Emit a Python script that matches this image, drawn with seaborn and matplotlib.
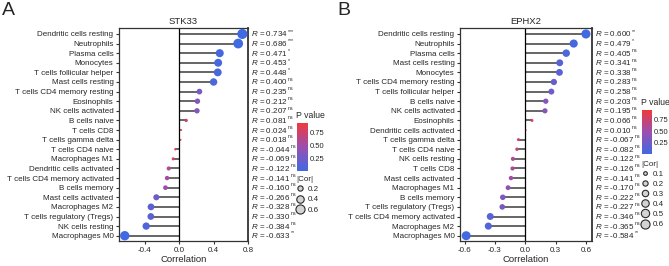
import numpy as np
import pandas as pd
import matplotlib
matplotlib.use('Agg')
import matplotlib.pyplot as plt
import matplotlib.transforms as mtransforms
from matplotlib.colors import LinearSegmentedColormap, Normalize
from matplotlib.lines import Line2D
import seaborn as sns

# panel A - STK33
cells_a = ['Dendritic cells resting', 'Neutrophils', 'Plasma cells', 'Monocytes',
           'T cells follicular helper', 'Mast cells resting', 'T cells CD4 memory resting',
           'Eosinophils', 'NK cells activated', 'B cells naive', 'T cells CD8',
           'T cells gamma delta', 'T cells CD4 naive', 'Macrophages M1',
           'Dendritic cells activated', 'T cells CD4 memory activated', 'B cells memory',
           'Mast cells activated', 'Macrophages M2', 'T cells regulatory (Tregs)',
           'NK cells resting', 'Macrophages M0']
r_a = [0.734, 0.686, 0.471, 0.453, 0.448, 0.400, 0.235, 0.212, 0.207, 0.081, 0.024,
       0.018, -0.044, -0.069, -0.122, -0.141, -0.160, -0.266, -0.328, -0.330, -0.384, -0.633]
p_a = [0.0001, 0.0004, 0.027, 0.034, 0.037, 0.065, 0.29, 0.34, 0.355, 0.72, 0.916,
       0.937, 0.846, 0.76, 0.59, 0.53, 0.477, 0.23, 0.136, 0.134, 0.078, 0.0016]
sig_a = ['***', '***', '*', '*', '*', 'ns', 'ns', 'ns', 'ns', 'ns', 'ns',
         'ns', 'ns', 'ns', 'ns', 'ns', 'ns', 'ns', 'ns', 'ns', 'ns', '**']

# panel B - EPHX2
cells_b = ['Dendritic cells resting', 'Neutrophils', 'Plasma cells', 'Mast cells resting',
           'Monocytes', 'T cells CD4 memory resting', 'T cells follicular helper',
           'B cells naive', 'NK cells activated', 'Eosinophils', 'Dendritic cells activated',
           'T cells gamma delta', 'T cells CD4 naive', 'NK cells resting', 'T cells CD8',
           'Mast cells activated', 'Macrophages M1', 'B cells memory',
           'T cells regulatory (Tregs)', 'T cells CD4 memory activated', 'Macrophages M2',
           'Macrophages M0']
r_b = [0.600, 0.479, 0.405, 0.341, 0.338, 0.283, 0.258, 0.203, 0.195, 0.066, 0.010,
       -0.067, -0.082, -0.122, -0.126, -0.141, -0.170, -0.222, -0.227, -0.346, -0.365, -0.584]
p_b = [0.003, 0.024, 0.061, 0.12, 0.124, 0.20, 0.246, 0.365, 0.385, 0.77, 0.965,
       0.767, 0.716, 0.59, 0.576, 0.53, 0.45, 0.32, 0.31, 0.115, 0.095, 0.0043]
sig_b = ['**', '*', 'ns', 'ns', 'ns', 'ns', 'ns', 'ns', 'ns', 'ns', 'ns',
         'ns', 'ns', 'ns', 'ns', 'ns', 'ns', 'ns', 'ns', 'ns', 'ns', '**']

size_legend_a = [0.2, 0.4, 0.6]
size_legend_b = [0.1, 0.2, 0.3, 0.4, 0.5, 0.6]

sns.set_style('ticks')
plt.rcParams['font.family'] = ['Liberation Sans', 'DejaVu Sans']
plt.rcParams['mathtext.fontset'] = 'custom'
plt.rcParams['mathtext.rm'] = 'Liberation Sans'
plt.rcParams['mathtext.it'] = 'Liberation Sans:italic'

FS = 5.8
pval_cmap = LinearSegmentedColormap.from_list('pval', ['#4169E1', '#9B4FB0', '#EE3B3B'])
SIZE_K = 72.0  # marker area (pt^2) per unit |r|


def draw_panel(fig, rect, gene, cells, r, p, sig, xticks, xlim, cbar_rect, leg_xy, leg_vals, leg_space):
    ax = fig.add_axes(rect)
    n = len(cells)
    df = pd.DataFrame({'cell': cells, 'r': r, 'p': p})
    df['absr'] = df['r'].abs()
    df['ypos'] = np.arange(n)

    ax.hlines(df['ypos'], 0, df['r'], color='#3c3c3c', lw=1.1, zorder=1)
    ax.axvline(0, color='black', lw=0.9, zorder=1)
    norm = Normalize(min(p), max(p))
    sns.scatterplot(data=df, x='r', y='ypos', hue='p', hue_norm=norm, palette=pval_cmap,
                    size='absr', sizes=(0, SIZE_K), size_norm=(0, 1), linewidth=0,
                    legend=False, ax=ax, zorder=3)

    ax.set_ylim(n - 1 + 0.55, -0.62)
    ax.set_xlim(*xlim)
    ax.set_yticks(range(n))
    ax.set_yticklabels(cells, fontsize=FS)
    ax.set_xticks(xticks)
    ax.set_xticklabels([f'{t:.1f}' for t in xticks], fontsize=FS)
    ax.set_xlabel('Correlation', fontsize=6.8, labelpad=1)
    ax.set_ylabel('')
    ax.set_title(gene, fontsize=6.8, pad=3)
    ax.tick_params(length=2.5, width=0.8, pad=1.5, color='#333333')
    for s in ax.spines.values():
        s.set_linewidth(0.9)
        s.set_color('#333333')
    ax.spines['right'].set_linewidth(1.3)

    trans = mtransforms.blended_transform_factory(ax.transAxes, ax.transData)
    for i, (val, star) in enumerate(zip(r, sig)):
        txt = ax.text(1.025, i, f'$R$ = {val:.3f}', transform=trans, va='center',
                      ha='left', fontsize=FS, clip_on=False)
        ax.annotate(star, xy=(1.0, 0.8), xycoords=txt, xytext=(0.1, 0),
                    textcoords='offset points', va='center', ha='left',
                    fontsize=3.8, annotation_clip=False)

    # P value colorbar
    cax = fig.add_axes(cbar_rect)
    sm = plt.cm.ScalarMappable(norm=norm, cmap=pval_cmap)
    cb = fig.colorbar(sm, cax=cax, ticks=[0.25, 0.5, 0.75])
    cb.outline.set_visible(False)
    cb.ax.set_yticklabels(['0.25', '0.50', '0.75'], fontsize=FS - 0.3)
    cb.ax.tick_params(length=2, width=0.6, color='white', direction='in', pad=1.5)
    fig.text(cbar_rect[0] - 0.002, cbar_rect[1] + cbar_rect[3] + 0.01, 'P value', fontsize=FS + 0.4,
             ha='left', va='bottom')

    # |Cor| size legend
    handles = [Line2D([], [], marker='o', ls='', markersize=np.sqrt(SIZE_K * v),
                      markerfacecolor='#d3d3d3', markeredgecolor='#2a2a2a', markeredgewidth=0.8)
               for v in leg_vals]
    fig.legend(handles, [f'{v:.1f}' for v in leg_vals], title='|Cor|', loc='upper left',
               bbox_to_anchor=leg_xy, frameon=False, fontsize=FS, title_fontsize=FS,
               alignment='left', borderpad=0, borderaxespad=0, labelspacing=leg_space,
               handletextpad=0.4, handlelength=1.0)
    return ax


fig = plt.figure(figsize=(6.69, 2.66), dpi=100)

draw_panel(fig, [119 / 669, 25 / 266, 129 / 669, 213 / 266], 'STK33', cells_a, r_a, p_a, sig_a,
           [-0.4, 0.0, 0.4, 0.8], (-0.70, 0.80), [297 / 669, 95 / 266, 11 / 669, 48 / 266],
           (296 / 669, 1 - 176 / 266), size_legend_a, 0.32)
draw_panel(fig, [460 / 669, 25 / 266, 132 / 669, 213 / 266], 'EPHX2', cells_b, r_b, p_b, sig_b,
           [-0.6, -0.3, 0.0, 0.3, 0.6], (-0.645, 0.66), [642 / 669, 112 / 266, 10 / 669, 44 / 266],
           (641 / 669, 1 - 161 / 266), size_legend_b, 0.3)

fig.text(2 / 669, 1 - 2 / 266, 'A', fontsize=14, ha='left', va='top')
fig.text(337 / 669, 1 - 2 / 266, 'B', fontsize=14, ha='left', va='top')

fig.savefig('out.png', dpi=100)
